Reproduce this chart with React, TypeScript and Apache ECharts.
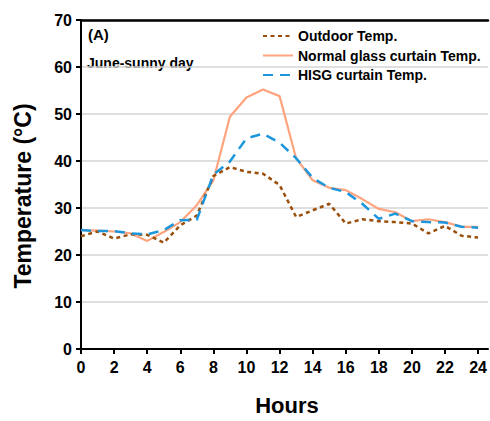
import React, { useEffect, useRef } from "react";
import * as echarts from "echarts";

const hours = [0, 1, 2, 3, 4, 5, 6, 7, 8, 9, 10, 11, 12, 13, 14, 15, 16, 17, 18, 19, 20, 21, 22, 23, 24];
const outdoorTemp = [24.0, 25.0, 23.5, 24.4, 24.3, 22.6, 26.3, 28.4, 36.8, 38.7, 37.7, 37.3, 34.9, 28.1, 29.5, 30.9, 26.7, 27.6, 27.2, 27.0, 26.7, 24.6, 26.2, 24.1, 23.7];
const normalGlassTemp = [25.3, 25.2, 25.0, 24.6, 23.0, 24.9, 27.0, 30.6, 35.9, 49.4, 53.5, 55.2, 53.8, 40.6, 35.9, 34.3, 33.8, 31.9, 29.8, 29.1, 27.2, 27.6, 27.0, 26.0, 26.0];
const hisgTemp = [25.3, 25.1, 25.1, 24.6, 24.4, 25.3, 27.4, 27.5, 37.1, 39.9, 44.8, 45.8, 43.9, 40.6, 36.4, 34.3, 33.4, 30.9, 27.7, 28.8, 27.2, 27.0, 26.9, 26.0, 25.8];
const seriesNames = ["Outdoor Temp.", "Normal glass curtain Temp.", "HISG curtain Temp."];

const FONT = "'Liberation Sans', Arial, sans-serif";

export default function App() {
  const ref = useRef<HTMLDivElement>(null);
  useEffect(() => {
    if (!ref.current) return;
    const chart = echarts.init(ref.current, null, { renderer: "svg" });
    const pair = (arr: number[]) => hours.map((h, i) => [h, arr[i]]);
    chart.setOption({
      animation: false,
      textStyle: { fontFamily: FONT },
      grid: { left: 81, width: 408, top: 20, height: 335, containLabel: false },
      legend: {
        orient: "vertical",
        left: 257,
        top: 24,
        itemWidth: 30,
        itemHeight: 14,
        itemGap: 5.5,
        itemStyle: { opacity: 0 },
        textStyle: { fontFamily: FONT, fontWeight: "bold", fontSize: 14, color: "#000" },
        data: seriesNames,
      },
      graphic: [
        { type: "text", left: 88, top: 27, style: { text: "(A)", font: `bold 15px ${FONT}`, fill: "#000" } },
        { type: "text", left: 87, top: 56, style: { text: "June-sunny day", font: `bold 14px ${FONT}`, fill: "#000" } },
        {
          type: "text",
          x: 23,
          y: 196,
          rotation: Math.PI / 2,
          style: {
            text: "Temperature (°C)",
            font: `bold 23px ${FONT}`,
            fill: "#000",
            align: "center",
            verticalAlign: "middle",
          },
        },
      ],
      xAxis: [
        {
          type: "value",
          min: 0,
          max: 24.6,
          interval: 2,
          name: "Hours",
          nameLocation: "middle",
          nameGap: 45,
          nameTextStyle: { fontFamily: FONT, fontWeight: "bold", fontSize: 22, color: "#000", padding: [0, 0, 0, 5] },
          axisLine: { show: true, onZero: false, lineStyle: { color: "#000", width: 2 } },
          axisTick: { show: true, length: 5, lineStyle: { color: "#000", width: 2 } },
          axisLabel: {
            margin: 10,
            fontFamily: FONT,
            fontWeight: "bold",
            fontSize: 16,
            color: "#000",
            showMaxLabel: false,
            formatter: (v: number) => (v % 2 === 0 ? String(v) : ""),
          },
          splitLine: { show: false },
        },
        {
          type: "value",
          position: "top",
          min: 0,
          max: 24.6,
          axisLine: { show: true, onZero: false, lineStyle: { color: "#000", width: 2.5 } },
          axisTick: { show: false },
          axisLabel: { show: false },
          splitLine: { show: false },
        },
      ],
      yAxis: {
        type: "value",
        min: 0,
        max: 70,
        interval: 10,
        axisLine: { show: true, lineStyle: { color: "#000", width: 2 } },
        axisTick: { show: true, length: 5, lineStyle: { color: "#000", width: 2 } },
        axisLabel: { margin: 9, fontFamily: FONT, fontWeight: "bold", fontSize: 16, color: "#000" },
        splitLine: { show: true, lineStyle: { color: "#d4d4d4", width: 1.5 } },
      },
      series: [
        {
          name: seriesNames[0],
          type: "line",
          symbol: "none",
          data: pair(outdoorTemp),
          lineStyle: { color: "#9a4f0c", width: 2.5, type: [4, 3.5] },
          itemStyle: { color: "#9a4f0c" },
          z: 3,
        },
        {
          name: seriesNames[1],
          type: "line",
          symbol: "none",
          data: pair(normalGlassTemp),
          lineStyle: { color: "#ffa47e", width: 2.2, type: "solid" },
          itemStyle: { color: "#ffa47e" },
          z: 2,
        },
        {
          name: seriesNames[2],
          type: "line",
          symbol: "none",
          data: pair(hisgTemp),
          lineStyle: { color: "#1c96dc", width: 2.5, type: [10, 7] },
          itemStyle: { color: "#1c96dc" },
          z: 4,
        },
      ],
    });
    return () => chart.dispose();
  }, []);
  return <div ref={ref} style={{ width: 490, height: 421, position: "absolute", left: 0, top: 0 }} />;
}
